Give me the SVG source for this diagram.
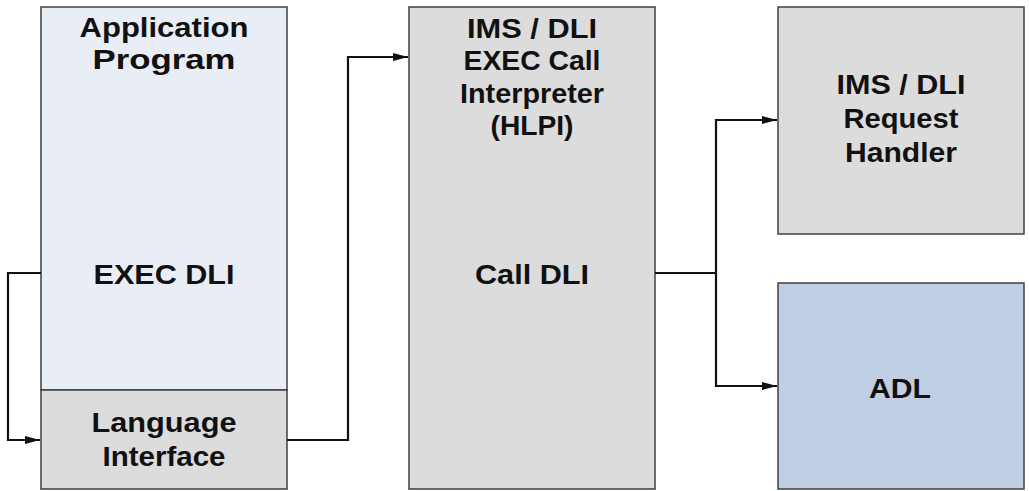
<svg xmlns="http://www.w3.org/2000/svg" width="1029" height="491" viewBox="0 0 1029 491">
<style>
.box{stroke:#404040;stroke-width:1.5}
.gray{fill:#dcdcdc}
.light{fill:#e9edf5}
.blue{fill:#bfcee3}
text{font-family:"Liberation Sans",Arial,sans-serif;font-weight:bold;font-size:28px;fill:#111;text-anchor:middle}
.conn{fill:none;stroke:#111;stroke-width:2.2}
</style>
<defs>
<marker id="arr" viewBox="0 0 15 8" refX="15" refY="4" markerWidth="15" markerHeight="8" markerUnits="userSpaceOnUse" orient="auto">
<path d="M0,0 L15,4 L0,8 Z" fill="#111"/>
</marker>
</defs>
<rect width="1029" height="491" fill="#fff"/>
<g id="app-program">
<rect class="box light" x="41" y="7" width="246" height="383"/>
<text x="164" y="37" textLength="169" lengthAdjust="spacingAndGlyphs">Application</text>
<text x="164" y="69" textLength="143" lengthAdjust="spacingAndGlyphs">Program</text>
<text x="164" y="284" textLength="141" lengthAdjust="spacingAndGlyphs">EXEC DLI</text>
</g>
<g id="language-interface">
<rect class="box gray" x="41" y="390" width="246" height="99"/>
<text x="164" y="432" textLength="145" lengthAdjust="spacingAndGlyphs">Language</text>
<text x="164" y="466" textLength="123" lengthAdjust="spacingAndGlyphs">Interface</text>
</g>
<g id="hlpi">
<rect class="box gray" x="409" y="7" width="246" height="482"/>
<text x="532" y="38" textLength="130" lengthAdjust="spacingAndGlyphs">IMS / DLI</text>
<text x="532" y="70" textLength="137" lengthAdjust="spacingAndGlyphs">EXEC Call</text>
<text x="532" y="103" textLength="144" lengthAdjust="spacingAndGlyphs">Interpreter</text>
<text x="532" y="135" textLength="83" lengthAdjust="spacingAndGlyphs">(HLPI)</text>
<text x="532" y="284" textLength="114" lengthAdjust="spacingAndGlyphs">Call DLI</text>
</g>
<g id="request-handler">
<rect class="box gray" x="778" y="7" width="246" height="227"/>
<text x="901" y="94" textLength="129" lengthAdjust="spacingAndGlyphs">IMS / DLI</text>
<text x="901" y="128" textLength="115" lengthAdjust="spacingAndGlyphs">Request</text>
<text x="901" y="162" textLength="112" lengthAdjust="spacingAndGlyphs">Handler</text>
</g>
<g id="adl">
<rect class="box blue" x="778" y="283" width="246" height="206"/>
<text x="900" y="398" textLength="62" lengthAdjust="spacingAndGlyphs">ADL</text>
</g>
<g id="connectors">
<path class="conn" d="M41,273 H8 V440 H40" marker-end="url(#arr)"/>
<path class="conn" d="M287,440 H348 V57 H408" marker-end="url(#arr)"/>
<path class="conn" d="M655,273 H716"/>
<path class="conn" d="M716,273 V120 H777" marker-end="url(#arr)"/>
<path class="conn" d="M716,273 V386 H777" marker-end="url(#arr)"/>
</g>
</svg>
